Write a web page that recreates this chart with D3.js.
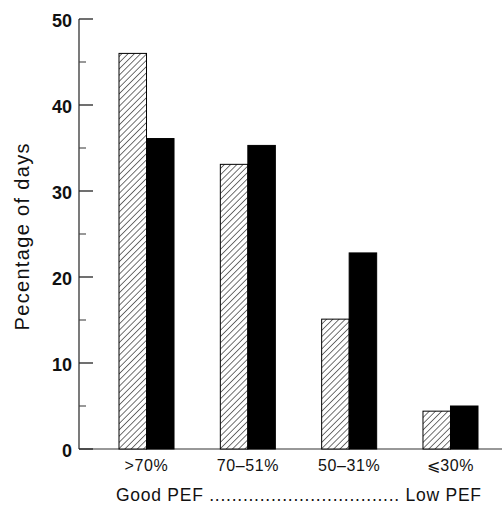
<!DOCTYPE html>
<html><head><meta charset="utf-8">
<script src="https://d3js.org/d3.v7.min.js"></script>
<style>html,body{margin:0;padding:0;background:#fff;}svg{display:block;}</style>
</head><body>
<script>
const categories = [">70%", "70–51%", "50–31%", "⩽30%"];
const hatchedValues = [46.0, 33.1, 15.1, 4.4];
const solidValues = [36.1, 35.3, 22.8, 5.0];
const yTicks = [0, 10, 20, 30, 40, 50];
const yMinorTicks = [5, 15, 25, 35, 45];
const yLabel = "Pecentage of days";
const xLabel = "Good PEF .................................. Low PEF";

const W = 502, H = 506;
const svg = d3.select("body").append("svg").attr("width", W).attr("height", H)
  .style("font-family", "'Liberation Sans', Arial, Helvetica, sans-serif");

const defs = svg.append("defs");
const pat = defs.append("pattern").attr("id", "hatch").attr("patternUnits", "userSpaceOnUse")
  .attr("width", 4.4).attr("height", 4.4).attr("patternTransform", "rotate(45)");
pat.append("rect").attr("width", 4.4).attr("height", 4.4).attr("fill", "#fff");
pat.append("line").attr("x1", 0).attr("y1", 0).attr("x2", 0).attr("y2", 4.4)
  .attr("stroke", "#000").attr("stroke-width", 1.1);

const y = d3.scaleLinear().domain([0, 50]).range([449, 19]);
const x = d3.scaleBand().domain(categories).range([119, 478]).paddingInner(0.457).paddingOuter(0);
const sub = d3.scaleBand().domain([0, 1]).range([0, x.bandwidth()]);

// baseline
svg.append("line").attr("x1", 79).attr("x2", 502).attr("y1", y(0)).attr("y2", y(0))
  .attr("stroke", "#333").attr("stroke-width", 1.2);

// y axis
const yAxis = svg.append("g");
yAxis.append("line").attr("x1", 79).attr("x2", 79).attr("y1", y(50)).attr("y2", y(0))
  .attr("stroke", "#333").attr("stroke-width", 1.3);
yAxis.selectAll(".maj").data(yTicks).enter().append("line")
  .attr("x1", 79).attr("x2", 93).attr("y1", d => y(d)).attr("y2", d => y(d))
  .attr("stroke", "#222").attr("stroke-width", 1.3);
yAxis.selectAll(".min").data(yMinorTicks).enter().append("line")
  .attr("x1", 79).attr("x2", 86).attr("y1", d => y(d)).attr("y2", d => y(d))
  .attr("stroke", "#444").attr("stroke-width", 1.1);
yAxis.selectAll("text").data(yTicks).enter().append("text")
  .attr("x", 72).attr("y", d => y(d) + 7.5).attr("text-anchor", "end")
  .attr("font-size", 18).attr("font-weight", "bold").attr("fill", "#111")
  .text(d => d);

const groups = svg.selectAll(".grp").data(categories).enter().append("g")
  .attr("transform", d => `translate(${x(d)},0)`);
groups.append("rect")
  .attr("x", sub(0)).attr("width", sub.bandwidth())
  .attr("y", (d, i) => y(hatchedValues[i])).attr("height", (d, i) => y(0) - y(hatchedValues[i]))
  .attr("fill", "url(#hatch)").attr("stroke", "#000").attr("stroke-width", 1);
groups.append("rect")
  .attr("x", sub(1)).attr("width", sub.bandwidth())
  .attr("y", (d, i) => y(solidValues[i])).attr("height", (d, i) => y(0) - y(solidValues[i]))
  .attr("fill", "#000").attr("stroke", "#000").attr("stroke-width", 1);

svg.selectAll(".cat").data(categories).enter().append("text")
  .attr("x", d => x(d) + x.bandwidth() / 2).attr("y", 471)
  .attr("text-anchor", "middle").attr("font-size", 16).attr("letter-spacing", 0.6).attr("fill", "#111")
  .text(d => d);

svg.append("text").attr("x", 116).attr("y", 501).attr("font-size", 17.5)
  .attr("textLength", 365).attr("lengthAdjust", "spacing").attr("fill", "#111")
  .text(xLabel);

svg.append("text").attr("transform", "translate(29,237) rotate(-90)")
  .attr("text-anchor", "middle").attr("font-size", 20).attr("fill", "#111")
  .attr("textLength", 187).attr("lengthAdjust", "spacing")
  .text(yLabel);
</script>
</body></html>
